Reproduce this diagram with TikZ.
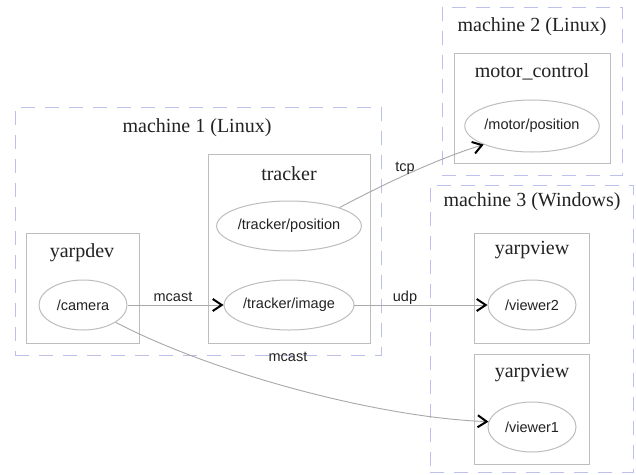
\documentclass[tikz,border=0pt]{standalone}
\usepackage{fontspec}
\setmainfont{Liberation Serif}
\setsansfont{Liberation Sans}
\usetikzlibrary{arrows.meta,shapes.geometric}
\definecolor{clustc}{HTML}{BCC0EA}
\definecolor{boxc}{HTML}{BDBDBD}
\definecolor{edgec}{HTML}{A8A8A8}
\definecolor{txtc}{HTML}{222222}
\tikzset{
  cluster/.style={draw=clustc,dash pattern=on 14pt off 10pt,line width=1pt,rectangle,inner sep=0pt},
  procbox/.style={draw=boxc,line width=1pt,rectangle,inner sep=0pt},
  port/.style={draw=boxc,line width=1pt,ellipse,inner sep=0pt,font=\sffamily\fontsize{14.5}{16}\selectfont,text=txtc},
  title/.style={font=\rmfamily\fontsize{20}{22}\selectfont,text=txtc,inner sep=0pt},
  elabel/.style={font=\sffamily\fontsize{14.5}{16}\selectfont,text=txtc,inner sep=0pt},
  conn/.style={draw=edgec,line width=0.9pt,-{Straight Barb[black,length=9pt,width=12pt,line width=2pt]}},
}
\begin{document}
\begin{tikzpicture}[x=1pt,y=-1pt]
\useasboundingbox[fill=white] (0,0) rectangle (636,474);
% clusters
\node[cluster,minimum width=366pt,minimum height=248pt] (m1) at (198,231) {};
\node[cluster,minimum width=180pt,minimum height=168pt] (m2) at (532,91) {};
\node[cluster,minimum width=203pt,minimum height=287pt] (m3) at (531.5,328.5) {};
\node[title] (m1t) at (197,128) {machine 1 (Linux)};
\node[title] (m2t) at (532,27) {machine 2 (Linux)};
\node[title] (m3t) at (532,202) {machine 3 (Windows)};
% process boxes
\node[procbox,minimum width=113pt,minimum height=110pt] (yarpdev) at (82.5,288) {};
\node[procbox,minimum width=162pt,minimum height=189pt] (tracker) at (289,248.5) {};
\node[procbox,minimum width=156pt,minimum height=110pt] (motor) at (532,108) {};
\node[procbox,minimum width=115pt,minimum height=110pt] (yv1) at (531.5,288) {};
\node[procbox,minimum width=115pt,minimum height=110pt] (yv2) at (531.5,409) {};
\node[title] (yarpdevt) at (82,253) {yarpdev};
\node[title] (trackert) at (289,174) {tracker};
\node[title] (motort) at (532,72) {motor\_control};
\node[title] (yv1t) at (532,250) {yarpview};
\node[title] (yv2t) at (532,373) {yarpview};
% ports
\node[port,minimum width=88pt,minimum height=50pt] (camera) at (83,305) {/camera};
\node[port,minimum width=136pt,minimum height=50pt] (tpos) at (289,226) {/tracker/position};
\node[port,minimum width=124pt,minimum height=50pt] (timg) at (289,305) {/tracker/image};
\node[port,minimum width=128pt,minimum height=52pt] (mpos) at (532,126) {/motor/position};
\node[port,minimum width=88pt,minimum height=50pt] (v2) at (532,305) {/viewer2};
\node[port,minimum width=88pt,minimum height=50pt] (v1) at (532,427) {/viewer1};
% connectors
\draw[conn] (camera.east) -- (timg.west);
\node[elabel] (l1) at (173,297) {mcast};
\draw[conn] (tpos.20) .. controls +(43,-23) and +(-46,14) .. (mpos.201);
\node[elabel] (l2) at (405,168) {tcp};
\draw[conn] (timg.east) -- (v2.west);
\node[elabel] (l3) at (405,298) {udp};
\draw[conn] (camera.-28) .. controls +(100,52) and +(-108,-4) .. (v1.173);
\node[elabel] (l4) at (288,357) {mcast};
\end{tikzpicture}
\end{document}
